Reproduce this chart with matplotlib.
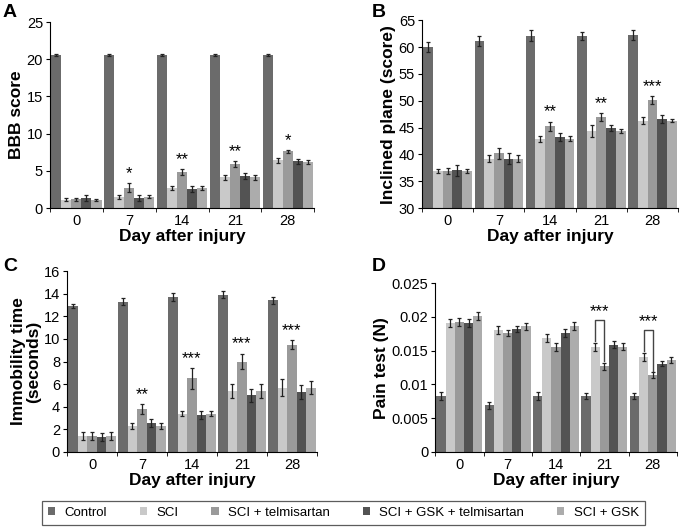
import matplotlib
matplotlib.use('Agg')
import matplotlib.pyplot as plt
import numpy as np

plt.rcParams['font.family'] = ['Liberation Sans', 'DejaVu Sans']

days = ['0', '7', '14', '21', '28']
groups = ['Control', 'SCI', 'SCI + telmisartan', 'SCI + GSK + telmisartan', 'SCI + GSK']
colors = ['#6b6b6b', '#c9c9c9', '#9a9a9a', '#535353', '#acacac']

# A - BBB score
bbb = [
    [20.6, 20.6, 20.6, 20.6, 20.6],
    [1.1, 1.5, 2.7, 4.1, 6.4],
    [1.2, 2.7, 4.8, 5.9, 7.6],
    [1.3, 1.3, 2.6, 4.3, 6.3],
    [1.1, 1.5, 2.7, 4.1, 6.2],
]
bbb_err = [
    [0.15, 0.15, 0.15, 0.15, 0.15],
    [0.2, 0.25, 0.3, 0.4, 0.3],
    [0.2, 0.6, 0.4, 0.4, 0.15],
    [0.4, 0.4, 0.4, 0.4, 0.35],
    [0.15, 0.2, 0.3, 0.35, 0.3],
]
bbb_sig = ['', '*', '**', '**', '*']

# B - inclined plane
incl = [
    [60.0, 61.1, 62.1, 62.1, 62.2],
    [36.9, 39.2, 42.9, 44.3, 46.3],
    [36.9, 40.2, 45.2, 47.0, 50.1],
    [37.0, 39.2, 43.2, 44.9, 46.6],
    [36.9, 39.2, 42.9, 44.3, 46.3],
]
incl_err = [
    [1.0, 1.0, 1.0, 0.7, 0.9],
    [0.4, 0.6, 0.6, 1.1, 0.7],
    [0.6, 1.0, 0.9, 0.7, 0.7],
    [1.1, 1.0, 0.8, 0.6, 0.8],
    [0.3, 0.6, 0.5, 0.4, 0.3],
]
incl_sig = ['', '', '**', '**', '***']

# C - immobility time
immob = [
    [12.9, 13.3, 13.7, 13.9, 13.4],
    [1.4, 2.3, 3.4, 5.4, 5.7],
    [1.4, 3.8, 6.5, 8.0, 9.5],
    [1.3, 2.6, 3.3, 5.0, 5.3],
    [1.4, 2.3, 3.4, 5.4, 5.7],
]
immob_err = [
    [0.2, 0.3, 0.35, 0.3, 0.3],
    [0.35, 0.3, 0.2, 0.6, 0.75],
    [0.35, 0.4, 0.9, 0.7, 0.4],
    [0.35, 0.35, 0.35, 0.55, 0.6],
    [0.35, 0.3, 0.2, 0.6, 0.55],
]
immob_sig = ['', '**', '***', '***', '***']

# D - pain test
pain = [
    [0.0083, 0.0069, 0.0083, 0.0083, 0.0083],
    [0.0191, 0.0181, 0.0169, 0.0156, 0.0141],
    [0.0192, 0.0176, 0.0156, 0.0127, 0.0114],
    [0.0191, 0.0182, 0.0176, 0.0159, 0.0131],
    [0.0201, 0.0186, 0.0186, 0.0156, 0.0136],
]
pain_err = [
    [0.0006, 0.0005, 0.0006, 0.0005, 0.0005],
    [0.0006, 0.0006, 0.0006, 0.0006, 0.0006],
    [0.0006, 0.0004, 0.0006, 0.0005, 0.0004],
    [0.0006, 0.0004, 0.0006, 0.0005, 0.0004],
    [0.0006, 0.0005, 0.0006, 0.0005, 0.0004],
]


def draw_panel(ax, vals, errs, ylim, yticks, ytick_labels, ylabel, sig=None, bracket=None):
    x = np.arange(len(days))
    w = 0.19
    for i in range(5):
        ax.bar(x + (i - 2) * w, vals[i], w, color=colors[i], yerr=errs[i],
               error_kw=dict(ecolor='#222222', elinewidth=0.9, capsize=1.5, capthick=0.9),
               label=groups[i], zorder=2)
    ax.set_ylim(*ylim)
    ax.set_xlim(-0.49, 4.49)
    ax.set_yticks(yticks)
    ax.set_yticklabels(ytick_labels, fontsize=10.5)
    ax.set_xticks(x)
    ax.set_xticklabels(days, fontsize=10.5)
    ax.set_xticks(np.arange(-0.5, 5, 1), minor=True)
    ax.tick_params(axis='x', which='major', length=0, pad=4)
    ax.tick_params(axis='x', which='minor', length=3, direction='out')
    ax.tick_params(axis='y', length=3, pad=2)
    for s in ['top', 'right']:
        ax.spines[s].set_visible(False)
    ax.set_xlabel('Day after injury', fontsize=12.5, fontweight='bold', labelpad=1)
    ax.set_ylabel(ylabel, fontsize=12.5, fontweight='bold', labelpad=2, linespacing=1.0)
    rng = ylim[1] - ylim[0]
    if sig:
        for j, s in enumerate(sig):
            if s:
                top = vals[2][j] + errs[2][j]
                ax.text(x[j], top + rng * 0.012, s, ha='center', va='bottom', fontsize=12)
    if bracket:
        for j, s in bracket.items():
            x1 = x[j] - w
            x2 = x[j]
            y1 = vals[1][j] + errs[1][j] + rng * 0.01
            y2 = vals[2][j] + errs[2][j] + rng * 0.01
            yt = vals[1][j] + rng * 0.158
            ax.plot([x1, x1, x2, x2], [y1, yt, yt, y2], color='#444444', lw=1.0, zorder=3)
            ax.text((x1 + x2) / 2, yt + rng * 0.005, s, ha='center', va='bottom', fontsize=12)


fig = plt.figure(figsize=(6.81, 5.29), dpi=100)

axA = fig.add_axes([0.0734, 0.6068, 0.388, 0.3516])
draw_panel(axA, bbb, bbb_err, (0, 25), [0, 5, 10, 15, 20, 25],
           ['0', '5', '10', '15', '20', '25'], 'BBB score', sig=bbb_sig)

axB = fig.add_axes([0.6197, 0.6068, 0.376, 0.355])
draw_panel(axB, incl, incl_err, (30, 65), [30, 35, 40, 45, 50, 55, 60, 65],
           ['30', '35', '40', '45', '50', '55', '60', '65'], 'Inclined plane (score)', sig=incl_sig)

axC = fig.add_axes([0.0984, 0.1456, 0.367, 0.342])
draw_panel(axC, immob, immob_err, (0, 16), list(range(0, 17, 2)),
           [str(v) for v in range(0, 17, 2)], 'Immobility time\n(seconds)', sig=immob_sig)

axD = fig.add_axes([0.639, 0.1456, 0.355, 0.319])
draw_panel(axD, pain, pain_err, (0, 0.025), [0, 0.005, 0.01, 0.015, 0.02, 0.025],
           ['0', '0.005', '0.01', '0.015', '0.02', '0.025'], 'Pain test (N)',
           bracket={3: '***', 4: '***'})

for lab, (px, py) in zip('ABCD', [(3, 4), (372, 4), (3, 258), (372, 258)]):
    fig.text(px / 681, 1 - py / 529, lab, fontsize=14, fontweight='bold', va='top', ha='left')

handles, labels = axA.get_legend_handles_labels()
leg = fig.legend(handles, labels, loc='lower center', bbox_to_anchor=(0.504, -0.005),
                 ncol=5, fontsize=9.5, frameon=True, fancybox=False, edgecolor='#333333',
                 handlelength=0.55, handleheight=0.55, handletextpad=0.7, columnspacing=2.5,
                 borderpad=0.45)
leg.get_frame().set_linewidth(0.9)

fig.savefig('out.png', dpi=100)
